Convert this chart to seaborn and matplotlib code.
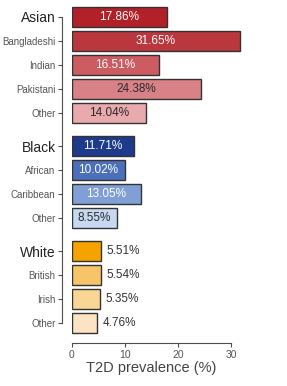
import matplotlib
matplotlib.use("Agg")
import matplotlib.pyplot as plt
import seaborn as sns
import pandas as pd

# ---- data ----
groups = ["Asian", "Black", "White"]
subgroups = [
    ["Bangladeshi", "Indian", "Pakistani", "Other"],
    ["African", "Caribbean", "Other"],
    ["British", "Irish", "Other"],
]
group_values = [17.86, 11.71, 5.51]
sub_values = [
    [31.65, 16.51, 24.38, 14.04],
    [10.02, 13.05, 8.55],
    [5.54, 5.35, 4.76],
]
xticks = [0, 10, 20, 30]
xlabel = "T2D prevalence (%)"

# ---- styles ----
group_colors = [
    ["#b22028", "#b9373d", "#cc5b62", "#d88187", "#e8aaad"],
    ["#1e3a8c", "#4b6fb9", "#809fd7", "#c7d9f1"],
    ["#f6a300", "#f8c46a", "#f9d596", "#fbe3c3"],
]
group_text = [
    ["white", "white", "white", "#2a2a2a", "#2a2a2a"],
    ["white", "white", "white", "#2a2a2a"],
    ["#333333", "#333333", "#333333", "#333333"],
]
inside = [True, True, False]

rows = []
gap = 0.4
pos = 0.0
for gi, g in enumerate(groups):
    names = [g] + subgroups[gi]
    vals = [group_values[gi]] + sub_values[gi]
    for j, (n, v) in enumerate(zip(names, vals)):
        rows.append(dict(key=f"{gi}-{j}", label=n, value=v, pos=pos,
                         color=group_colors[gi][j], tcolor=group_text[gi][j],
                         header=(j == 0), inside=inside[gi]))
        pos += 1
    pos += gap
df = pd.DataFrame(rows)

plt.rcParams["font.family"] = ["Liberation Sans", "DejaVu Sans"]
fig = plt.figure(figsize=(2.87, 3.86), dpi=100)
W, H = 287, 386
XMAX = 33
x0_px, xmax_px = 71.5, 71.5 + 5.33 * XMAX
top_px, bot_px = 5, 335
ax = fig.add_axes([x0_px / W, 1 - bot_px / H, (xmax_px - x0_px) / W, (bot_px - top_px) / H])

sns.barplot(data=df, x="value", y="pos", hue="key", hue_order=list(df["key"]),
            palette=list(df["color"]), orient="h", native_scale=True, dodge=False,
            width=0.83, saturation=1, edgecolor="#333333", linewidth=1.0,
            legend=False, ax=ax)

ax.set_xlim(0, XMAX)
ax.set_ylim(df["pos"].max() + 0.5, -0.5)

for _, r in df.iterrows():
    if r["inside"]:
        ax.text(r["value"] / 2, r["pos"], f"{r['value']:.2f}%", ha="center", va="center",
                color=r["tcolor"], fontsize=8.5)
    else:
        ax.text(r["value"] + 1.0, r["pos"], f"{r['value']:.2f}%", ha="left", va="center",
                color=r["tcolor"], fontsize=8.5)

# spines first (setting spine position resets ticks)
for s in ["top", "right"]:
    ax.spines[s].set_visible(False)
ax.spines["left"].set_position(("outward", 6.5))
ax.spines["bottom"].set_position(("outward", 5.5))
ax.spines["left"].set_bounds(df["pos"].min(), df["pos"].max())
ax.spines["bottom"].set_bounds(xticks[0], xticks[-1])
for s in ["left", "bottom"]:
    ax.spines[s].set_color("#4d4d4d")
    ax.spines[s].set_linewidth(0.8)

ax.tick_params(axis="both", length=3, width=0.8, color="#4d4d4d", pad=2)

ax.set_yticks(df["pos"])
ax.set_yticklabels(df["label"], fontsize=7, color="#555555")
for t, h in zip(ax.get_yticklabels(), df["header"]):
    if h:
        t.set_fontsize(10)
        t.set_color("#222222")

ax.set_xticks(xticks)
ax.set_xticklabels([str(x) for x in xticks], fontsize=7.5, color="#555555")
ax.set_xlabel(xlabel, fontsize=10.5, color="#444444", labelpad=1)
ax.xaxis.label.set_x((xticks[0] + xticks[-1]) / 2 / XMAX)
ax.set_ylabel("")
ax.set_facecolor("white")
ax.grid(False)

fig.savefig("out.png", dpi=100, facecolor="white")
